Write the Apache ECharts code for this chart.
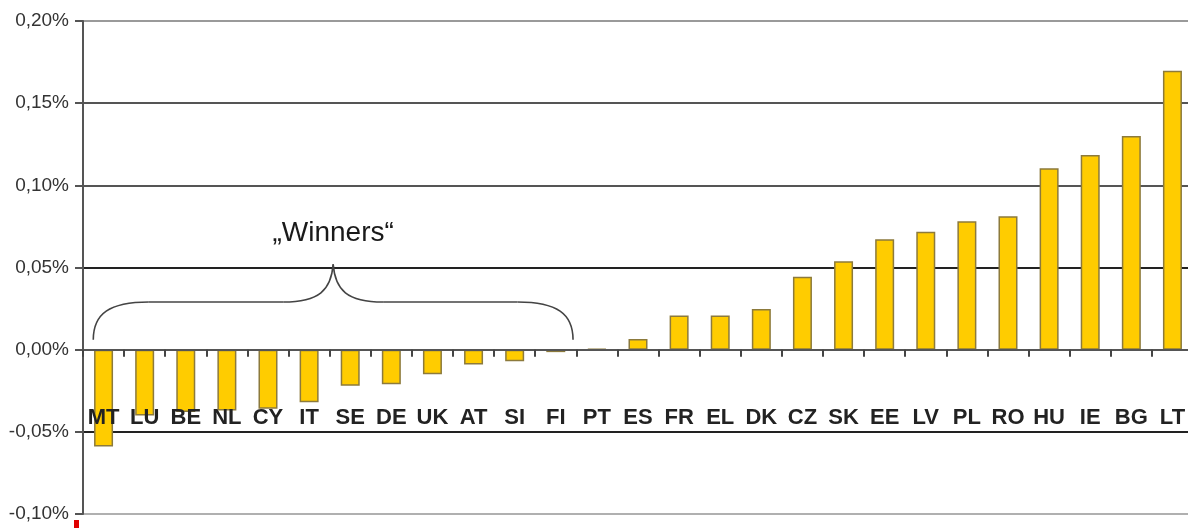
<!DOCTYPE html>
<html>
<head>
<meta charset="utf-8">
<script src="https://cdn.jsdelivr.net/npm/echarts@6/dist/echarts.min.js"></script>
<style>
html,body{margin:0;padding:0;background:#fff;}
#chart{width:1188px;height:528px;}
</style>
</head>
<body>
<div id="chart"></div>
<script>
const categories = ['MT','LU','BE','NL','CY','IT','SE','DE','UK','AT','SI','FI','PT','ES','FR','EL','DK','CZ','SK','EE','LV','PL','RO','HU','IE','BG','LT'];
const values = [-0.059,-0.040,-0.038,-0.037,-0.036,-0.032,-0.022,-0.021,-0.015,-0.009,-0.007,-0.0015,0.0005,0.0065,0.0208,0.0208,0.0247,0.0443,0.0538,0.0672,0.0718,0.0781,0.0812,0.1104,0.1185,0.1300,0.1698];
const yMin = -0.10, yMax = 0.20, yInterval = 0.05;
const annotationText = '\u201EWinners\u201C';
const winnersFrom = 'MT', winnersTo = 'FI';

function fmt(v){
  const s = (Math.round(v*100)/100).toFixed(2).replace('.', ',');
  return (s === '-0,00' ? '0,00' : s) + '%';
}

const FONT = 'Liberation Sans, Arial, sans-serif';
const chart = echarts.init(document.getElementById('chart'));
chart.setOption({
  animation: false,
  backgroundColor: '#fff',
  grid: { left: 83, top: 21, width: 1110, bottom: 14, containLabel: false, outerBoundsMode: 'none' },
  xAxis: [{
    type: 'category',
    data: categories,
    z: 10,
    axisLine: { onZero: true, lineStyle: { color: '#555', width: 2 } },
    axisTick: { show: true, alignWithLabel: false, length: 7, lineStyle: { color: '#444', width: 2 } },
    axisLabel: { show: false },
    splitLine: { show: false }
  }, {
    type: 'category',
    data: categories,
    position: 'bottom',
    offset: -111,
    z: 10,
    axisLine: { show: false, onZero: false },
    axisTick: { show: false },
    axisLabel: { margin: 4, fontFamily: FONT, fontWeight: 'bold', fontSize: 22, color: '#222', interval: 0 },
    splitLine: { show: false }
  }],
  yAxis: {
    type: 'value',
    min: yMin, max: yMax, interval: yInterval,
    axisLine: { show: true, lineStyle: { color: '#555', width: 2 } },
    axisTick: { show: true, length: 8, lineStyle: { color: '#555', width: 2 } },
    axisLabel: { formatter: fmt, fontFamily: FONT, fontSize: 19, color: '#333', margin: 14 },
    splitLine: { show: true, lineStyle: { color: ['#b0b0b0','#222','#555','#222','#555','#555','#9a9a9a'], width: 2 } }
  },
  series: [{
    type: 'bar',
    xAxisIndex: 0,
    data: values,
    barWidth: 19,
    itemStyle: { color: '#FFCC00', borderColor: '#8c7a3c', borderWidth: 1.5 },
    z: 2
  }]
});

function drawAnnotation(){
  const px = (c) => chart.convertToPixel({xAxisIndex:0}, c);
  const py = (v) => chart.convertToPixel({yAxisIndex:0}, v);
  const band = px(categories[1]) - px(categories[0]);
  const xL = px(winnersFrom) - 0.25*band;
  const xR = px(winnersTo) + 0.42*band;
  const xM = (xL + xR) / 2;
  const yB = py(0.006), yH = py(0.029), yP = py(0.052), yT = py(0.071);
  const c = 1.35*band;
  const st = { stroke: '#444', lineWidth: 1.6, fill: null };
  const z = 20;
  chart.setOption({
    graphic: [
      { type: 'bezierCurve', z, shape: { x1: xL, y1: yB, cpx1: xL, cpy1: yB-26, cpx2: xL+16, cpy2: yH, x2: xL+c, y2: yH }, style: st },
      { type: 'line', z, shape: { x1: xL+c, y1: yH, x2: xM-c*0.9, y2: yH }, style: st },
      { type: 'bezierCurve', z, shape: { x1: xM-c*0.9, y1: yH, cpx1: xM-14, cpy1: yH, cpx2: xM-2, cpy2: yH-12, x2: xM, y2: yP }, style: st },
      { type: 'bezierCurve', z, shape: { x1: xM, y1: yP, cpx1: xM+2, cpy1: yH-12, cpx2: xM+14, cpy2: yH, x2: xM+c*0.9, y2: yH }, style: st },
      { type: 'line', z, shape: { x1: xM+c*0.9, y1: yH, x2: xR-c, y2: yH }, style: st },
      { type: 'bezierCurve', z, shape: { x1: xR-c, y1: yH, cpx1: xR-16, cpy1: yH, cpx2: xR, cpy2: yB-26, x2: xR, y2: yB }, style: st },
      { type: 'text', z, x: xM, y: yT, style: { text: annotationText, font: '28px ' + FONT, fill: '#1a1a1a', align: 'center', verticalAlign: 'middle' } },
      { type: 'rect', z, shape: { x: 74, y: 520, width: 5, height: 8 }, style: { fill: '#e00000' } }
    ]
  });
}
drawAnnotation();
</script>
</body>
</html>
